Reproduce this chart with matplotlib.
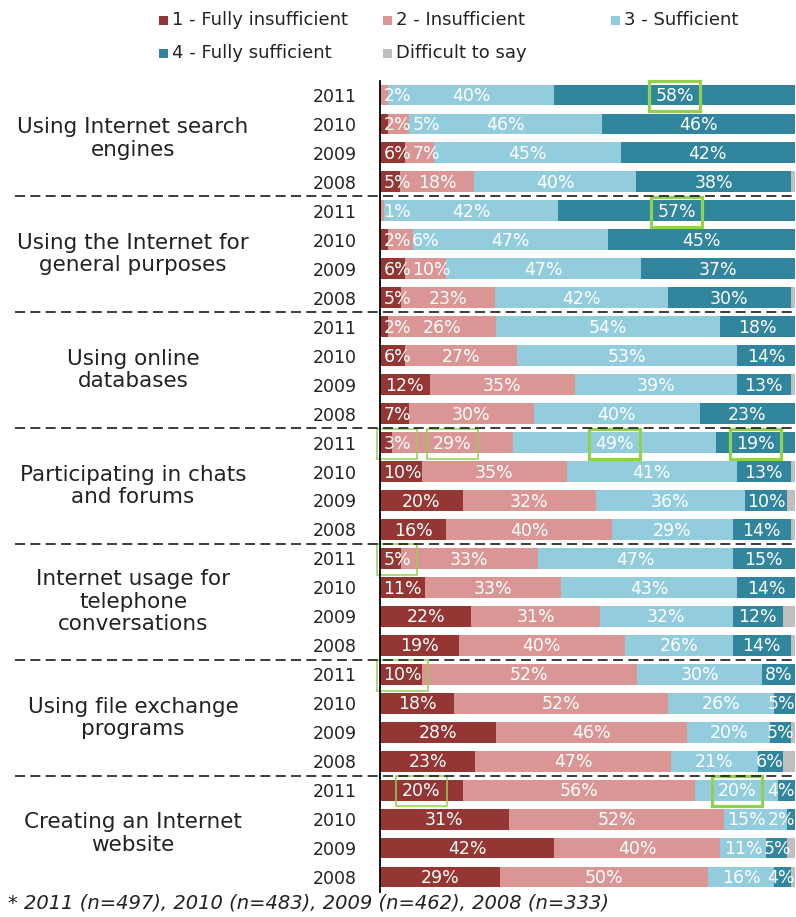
import numpy as np
import matplotlib
matplotlib.use("Agg")
import matplotlib.pyplot as plt
from matplotlib.lines import Line2D
from matplotlib.patches import Rectangle
from matplotlib.transforms import blended_transform_factory

plt.rcParams['font.family'] = ['DejaVu Sans']

# ---------------- data ----------------
groups = ["Using Internet search\nengines",
          "Using the Internet for\ngeneral purposes",
          "Using online\ndatabases",
          "Participating in chats\nand forums",
          "Internet usage for\ntelephone\nconversations",
          "Using file exchange\nprograms",
          "Creating an Internet\nwebsite"]
years = ["2011", "2010", "2009", "2008"]
series_names = ["1 - Fully insufficient", "2 - Insufficient", "3 - Sufficient",
                "4 - Fully sufficient", "Difficult to say"]

fully_insufficient = [0, 2, 6, 5,
                      0, 2, 6, 5,
                      2, 6, 12, 7,
                      3, 10, 20, 16,
                      5, 11, 22, 19,
                      10, 18, 28, 23,
                      20, 31, 42, 29]
insufficient = [2, 5, 7, 18,
                1, 6, 10, 23,
                26, 27, 35, 30,
                29, 35, 32, 40,
                33, 33, 31, 40,
                52, 52, 46, 47,
                56, 52, 40, 50]
sufficient = [40, 46, 45, 40,
              42, 47, 47, 42,
              54, 53, 39, 40,
              49, 41, 36, 29,
              47, 43, 32, 26,
              30, 26, 20, 21,
              20, 15, 11, 16]
fully_sufficient = [58, 46, 42, 38,
                    57, 45, 37, 30,
                    18, 14, 13, 23,
                    19, 13, 10, 14,
                    15, 14, 12, 14,
                    8, 5, 5, 6,
                    4, 2, 5, 4]
difficult = [0, 0, 0, 1,
             0, 0, 0, 1,
             0, 0, 1, 0,
             0, 1, 2, 1,
             0, 0, 3, 1,
             0, 0, 1, 3,
             0, 0, 2, 1]

footnote = "* 2011 (n=497), 2010 (n=483), 2009 (n=462), 2008 (n=333)"

# highlighted labels: (row, series index, thick)
highlights = [(0, 3, True), (4, 3, True), (12, 0, False), (12, 1, False),
              (12, 2, True), (12, 3, True), (16, 0, False), (20, 0, False),
              (24, 0, False), (24, 2, True)]

colors = ["#943634", "#D99694", "#93CDDD", "#31859C", "#BFBFBF"]
green = "#92D050"

# ---------------- figure ----------------
W, H = 796, 917
fig = plt.figure(figsize=(W / 100, H / 100), dpi=100)
fx = lambda px: px / W
fy = lambda py: 1 - py / H

ax = fig.add_axes([fx(380), fy(891.5), fx(415), 811 / H])

data = np.array([fully_insufficient, insufficient, sufficient,
                 fully_sufficient, difficult], dtype=float)
totals = data.sum(axis=0)
shares = data / totals * 100.0
nrows = data.shape[1]
y = np.arange(nrows)

left = np.zeros(nrows)
hl = {(r, s): t for r, s, t in highlights}
row_texts = {r: [] for r in range(nrows)}
for s in range(5):
    ax.barh(y, shares[s], left=left, height=0.72, color=colors[s],
            edgecolor='none', zorder=2)
    if s < 4:
        for r in range(nrows):
            v = data[s, r]
            if v <= 0:
                continue
            cx = left[r] + shares[s, r] / 2
            kw = {}
            if (r, s) in hl:
                thick = hl[(r, s)]
                kw['bbox'] = dict(boxstyle='square,pad=0.35', fc='none',
                                  ec=green, lw=2.3 if thick else 1.1)
            t = ax.text(cx, r + 0.04, f"{int(v)}%", ha='center', va='center',
                        color='white', fontsize=12.5, zorder=4, **kw)
            row_texts[r].append(t)
    left = left + shares[s]

ax.set_xlim(0, 100)
ax.set_ylim(nrows - 0.5, -0.5)
ax.set_xticks([])
ax.set_yticks(y)
ax.set_yticklabels(years * len(groups), fontsize=12.5, color='#222222')
ax.tick_params(axis='y', length=0, pad=17)
for sp in ['top', 'right', 'bottom']:
    ax.spines[sp].set_visible(False)
ax.spines['left'].set_color('black')
ax.spines['left'].set_linewidth(1.3)
ax.spines['left'].set_zorder(6)

trans = blended_transform_factory(fig.transFigure, ax.transData)
for g in range(1, len(groups)):
    yy = 4 * g - 0.5
    ln = Line2D([fx(15), fx(795)], [yy, yy], transform=trans, color='#1a1a1a',
                lw=1.2, dashes=(6.0, 3.2), clip_on=False, zorder=7)
    fig.add_artist(ln)

for g, name in enumerate(groups):
    ax.text(fx(133), 4 * g + 1.5, name, transform=trans, ha='center',
            va='center', multialignment='center', fontsize=15.5,
            color='#222222', linespacing=1.15, clip_on=False)

# legend
leg_pos = [(159, 20), (383, 20), (611, 20), (159, 53), (383, 53)]
sq = 9
for (px, py), name, c in zip(leg_pos, series_names, colors):
    fig.add_artist(Rectangle((fx(px), fy(py + sq / 2)), sq / W, sq / H,
                             transform=fig.transFigure, color=c, lw=0))
    fig.text(fx(px + sq + 4), fy(py), name, ha='left', va='center',
             fontsize=13, color='#222222')

fig.text(fx(8), fy(903), footnote, ha='left', va='center', fontsize=14,
         style='italic', color='#222222')

# keep bar labels inside the bar area and avoid overlaps within a row
fig.canvas.draw()
renderer = fig.canvas.get_renderer()
ax_w = ax.get_window_extent(renderer).width
gap = 0.3
lmargin = 0.8
for r, ts in row_texts.items():
    ts = sorted(ts, key=lambda t: t.get_position()[0])
    xs = [t.get_position()[0] for t in ts]
    ws = [t.get_window_extent(renderer).width / ax_w * 100 for t in ts]
    xs = [min(max(x, w / 2 + lmargin), 100 - w / 2) for x, w in zip(xs, ws)]
    for i in range(1, len(xs)):
        lim = xs[i - 1] + ws[i - 1] / 2 + gap + ws[i] / 2
        if xs[i] < lim:
            xs[i] = lim
    if xs and xs[-1] > 100 - ws[-1] / 2:
        xs[-1] = 100 - ws[-1] / 2
    for i in range(len(xs) - 2, -1, -1):
        lim = xs[i + 1] - ws[i + 1] / 2 - gap - ws[i] / 2
        if xs[i] > lim:
            xs[i] = lim
    for t, x in zip(ts, xs):
        t.set_x(x)

fig.savefig("out.png", dpi=100)
